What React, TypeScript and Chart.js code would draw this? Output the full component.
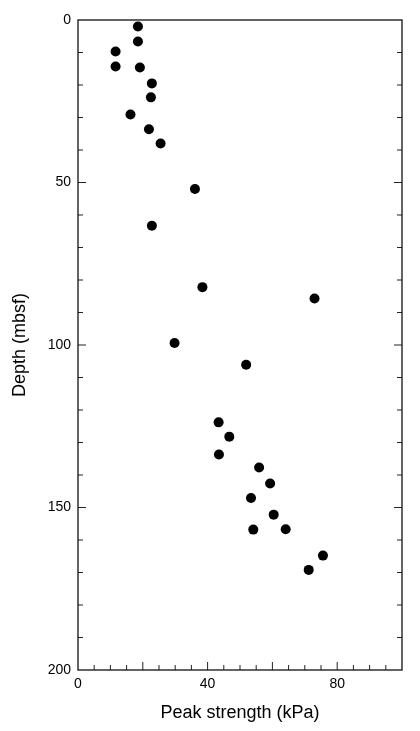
import React, { useEffect, useRef } from "react";
import { Chart, registerables } from "chart.js";

Chart.register(...registerables);

const peakStrength = [18.5, 18.5, 11.6, 11.6, 19.1, 22.8, 22.5, 16.2, 21.9, 25.5, 36.1, 22.8, 38.4, 73.0, 29.8, 51.9, 43.4, 46.7, 43.5, 55.9, 59.3, 53.4, 60.4, 54.1, 64.1, 75.6, 71.2];
const depth = [2.0, 6.6, 9.7, 14.3, 14.6, 19.5, 23.8, 29.1, 33.6, 38.0, 52.0, 63.3, 82.2, 85.7, 99.4, 106.1, 123.8, 128.2, 133.7, 137.7, 142.6, 147.1, 152.2, 156.8, 156.7, 164.8, 169.2];
const xLabelValues = [0, 40, 80];
const yLabelValues = [0, 50, 100, 150, 200];

const FONT = "'Liberation Sans', Arial, Helvetica, sans-serif";

const frameAndTicks = {
  id: "frameAndTicks",
  afterDraw(chart: any) {
    const { ctx, chartArea: a, scales } = chart;
    const xs = scales.x;
    const ys = scales.y;
    ctx.save();
    ctx.strokeStyle = "#222";
    ctx.lineWidth = 1;
    for (let v = 5; v < 100; v += 5) {
      const px = xs.getPixelForValue(v);
      const len = v % 20 === 0 ? 8 : 5;
      ctx.beginPath();
      ctx.moveTo(px, a.bottom);
      ctx.lineTo(px, a.bottom - len);
      ctx.stroke();
    }
    for (let v = 10; v < 200; v += 10) {
      const py = ys.getPixelForValue(v);
      const len = v % 50 === 0 ? 8 : 5;
      ctx.beginPath();
      ctx.moveTo(a.left, py);
      ctx.lineTo(a.left + len, py);
      ctx.moveTo(a.right, py);
      ctx.lineTo(a.right - len, py);
      ctx.stroke();
    }
    ctx.lineWidth = 1.3;
    ctx.strokeStyle = "#111";
    ctx.strokeRect(a.left, a.top, a.right - a.left, a.bottom - a.top);
    ctx.restore();
  },
};

export default function App() {
  const ref = useRef<HTMLCanvasElement>(null);
  useEffect(() => {
    const data = peakStrength.map((x, i) => ({ x, y: depth[i] }));
    const chart = new Chart(ref.current!, {
      type: "scatter",
      data: {
        datasets: [
          {
            data,
            backgroundColor: "#000",
            borderWidth: 0,
            pointRadius: 5,
            pointHoverRadius: 5,
          },
        ],
      },
      options: {
        animation: false,
        responsive: false,
        maintainAspectRatio: false,
        layout: { padding: { top: 20, right: 18, left: 0, bottom: 0 } },
        plugins: { legend: { display: false }, tooltip: { enabled: false } },
        scales: {
          x: {
            type: "linear",
            min: 0,
            max: 100,
            grid: { display: false, drawTicks: false },
            border: { display: false },
            afterFit: (s: any) => { s.height = 61; },
            ticks: {
              stepSize: 20,
              autoSkip: false,
              maxRotation: 0,
              padding: 6,
              color: "#000",
              font: { family: FONT, size: 14 },
              callback: (v: any) => (xLabelValues.includes(Number(v)) ? String(v) : ""),
            },
            title: {
              display: true,
              text: "Peak strength (kPa)",
              color: "#000",
              font: { family: FONT, size: 18 },
              padding: { top: 0, bottom: 7 },
            },
          },
          y: {
            type: "linear",
            reverse: true,
            min: 0,
            max: 200,
            grid: { display: false, drawTicks: false },
            border: { display: false },
            afterFit: (s: any) => { s.width = 78; },
            ticks: {
              stepSize: 50,
              autoSkip: false,
              padding: 7,
              color: "#000",
              font: { family: FONT, size: 14 },
              callback: (v: any) => (yLabelValues.includes(Number(v)) ? String(v) : ""),
            },
            title: {
              display: true,
              text: "Depth (mbsf)",
              color: "#000",
              font: { family: FONT, size: 18 },
              padding: { top: 9, bottom: 0 },
            },
          },
        },
      },
      plugins: [frameAndTicks],
    });
    return () => chart.destroy();
  }, []);
  return (
    <div style={{ position: "fixed", left: 0, top: 0, width: 420, height: 731, background: "#fff" }}>
      <canvas ref={ref} width={420} height={731} style={{ width: 420, height: 731 }} />
    </div>
  );
}
